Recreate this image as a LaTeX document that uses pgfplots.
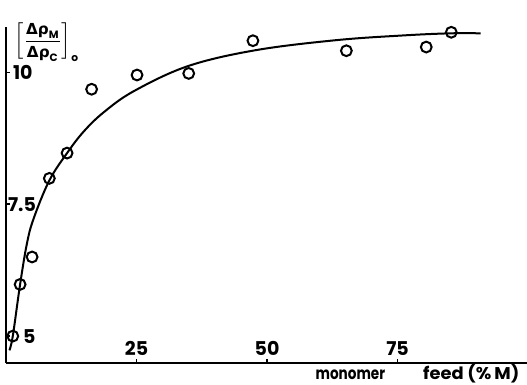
\documentclass[border=0pt]{standalone}
\usepackage{fontspec}
\setmainfont{Poppins}
\newfontfamily\dejavu{DejaVu Sans}
\usepackage{amsmath}
\usepackage{graphicx}
\usepackage{pgfplots}
\pgfplotsset{compat=1.18}
\begin{document}
\begin{tikzpicture}
\begin{axis}[
  scale only axis, width=260.5pt, height=168pt,
  xmin=0, xmax=99.8, ymin=4.49, ymax=10.86,
  axis x line*=bottom, axis y line*=left,
  axis line style={-, line width=0.9pt},
  tick align=inside, major tick length=2.2pt,
  tick style={line width=0.8pt, black},
  xtick={25,50,75}, xticklabels={25,50,75},
  ytick={5,7.5,10}, yticklabels={\hspace{5pt}5,\hspace{-2.5pt}7.5,10},
  xticklabel style={anchor=south},
  yticklabel style={anchor=west},
  ticklabel style={font=\fontsize{9.5}{10}\selectfont\bfseries},
  /pgf/number format/assume math mode=true,
  xlabel={\scalebox{0.8}[1]{monomer}\hspace{19pt}\scalebox{1.05}[1]{feed (\%\,M)}},
  every axis x label/.style={at={(axis description cs:0.99,0)}, anchor=north east,
     font=\fontsize{8.5}{10}\selectfont\bfseries, inner sep=0pt, xshift=-1pt, yshift=-0.5pt},
  ylabel={$\biggl[\dfrac{\text{\dejavu Δρ}_{\text{M}}}{\text{\dejavu Δρ}_{\text{C}}}\biggr]_{\text{o}}$},
  every axis y label/.style={at={(axis description cs:0,1)}, anchor=west,
     font=\fontsize{7.6}{9}\selectfont\bfseries, inner sep=0pt, xshift=4pt, yshift=-7.5pt},
  clip=false,
]
\addplot[smooth, tension=0.6, line width=1pt, black] coordinates {
 (0.65,4.73) (1.3,5.0) (2.7,5.98) (4.0,6.75) (5.3,7.23) (8.3,7.95) (11.7,8.47)
 (14.9,8.88) (18.8,9.25) (24.6,9.65) (34.9,10.12) (47.8,10.42) (63.2,10.61)
 (76.1,10.70) (85.1,10.74) (90.9,10.74)
};
\addplot[only marks, mark=o, mark size=2.7pt, mark options={line width=1pt, fill=white}, black] coordinates {
 (1.3,5.0) (2.7,5.98) (5.0,6.5) (8.3,7.99) (11.7,8.47) (16.4,9.68) (25.1,9.95)
 (35.0,9.98) (47.3,10.6) (65.2,10.41) (80.5,10.48) (85.3,10.76)
};
\coordinate (bl) at (rel axis cs:0,0);
\coordinate (tr) at (rel axis cs:1,1);
\end{axis}
\pgfresetboundingbox
\path[use as bounding box] ([xshift=-3pt,yshift=-10.5pt]bl) rectangle ([yshift=13.5pt]tr);
\end{tikzpicture}
\end{document}
